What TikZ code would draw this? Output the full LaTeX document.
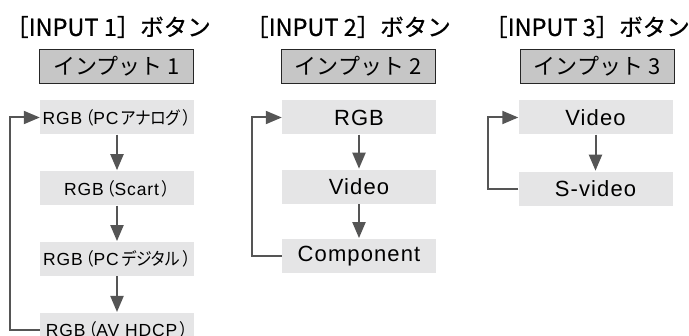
\documentclass[tikz,border=0pt]{standalone}
\usepackage{fontspec}
\setmainfont{Liberation Sans}[LetterSpace=5]
\newfontfamily\jp{Noto Sans CJK JP}
\newfontfamily\jpp{Noto Sans CJK JP}[RawFeature=+palt, FakeStretch=0.9]
\newfontfamily\jpm{Noto Sans CJK JP}[FakeBold=0.6]
\usetikzlibrary{arrows.meta,positioning}
\definecolor{linegray}{HTML}{555555}
\definecolor{boxgray}{HTML}{E5E5E6}
\definecolor{hdrgray}{HTML}{C6C6C6}
\newcommand{\lpar}{\hspace{3pt}{\jpp（}}
\newcommand{\rpar}{\hspace{3pt}{\jpp ）}}
\tikzset{
  hdr/.style={draw=black!85, line width=0.9pt, fill=hdrgray, minimum width=154pt, minimum height=34pt, inner sep=0pt, font=\jp\fontsize{22}{24}\selectfont},
  item/.style={fill=boxgray, minimum width=154pt, minimum height=34pt, inner sep=0pt, font=\fontsize{22}{24}\selectfont},
  small item/.style={item, font=\fontsize{17.5}{20}\selectfont},
  ttl/.style={font=\jpm\fontsize{23.5}{26}\selectfont},
  flow/.style={-{Triangle[length=16pt,width=13pt]}, line width=2pt, draw=linegray, shorten >=1pt},
}

\begin{document}
\begin{tikzpicture}[x=1pt, y=1pt]
    \useasboundingbox (0,0) rectangle (689,-336);
    % INPUT 1
    \node[ttl] (t1) at (108,-27) {［INPUT 1］ボタン};
    \node[hdr] (h1) at (116.5,-66.5) {インプット 1};
    \node[small item] (a1) at (117,-117.5) {RGB\lpar PC\,{\jpp アナログ}\rpar};
    \node[small item, below=36.5pt of a1] (a2) {RGB\lpar Scart\rpar};
    \node[small item, below=36.5pt of a2] (a3) {RGB\lpar PC\,{\jpp デジタル}\rpar};
    \node[small item, below=36.5pt of a3] (a4) {RGB\lpar AV HDCP\rpar};
    \draw[flow] (a1) -- (a2);
    \draw[flow] (a2) -- (a3);
    \draw[flow] (a3) -- (a4);
    \draw[flow, shorten >=0pt] (a4.west) -- ++(-30,0) |- (a1.west);
    % INPUT 2
    \node[ttl] (t2) at (348,-27) {［INPUT 2］ボタン};
    \node[hdr] (h2) at (358,-66.5) {インプット 2};
    \node[item] (b1) at (359,-117.5) {RGB};
    \node[item, below=35pt of b1] (b2) {Video};
    \node[item, below=35pt of b2] (b3) {Component};
    \draw[flow] (b1) -- (b2);
    \draw[flow] (b2) -- (b3);
    \draw[flow, shorten >=0pt] (b3.west) -- ++(-30,0) |- (b1.west);
    % INPUT 3
    \node[ttl] (t3) at (587,-27) {［INPUT 3］ボタン};
    \node[hdr] (h3) at (597,-66.5) {インプット 3};
    \node[item] (c1) at (595.5,-117.5) {Video};
    \node[item, below=37pt of c1] (c2) {S-video};
    \draw[flow] (c1) -- (c2);
    \draw[flow, shorten >=0pt] (c2.west) -- ++(-30,0) |- (c1.west);
\end{tikzpicture}
\end{document}
